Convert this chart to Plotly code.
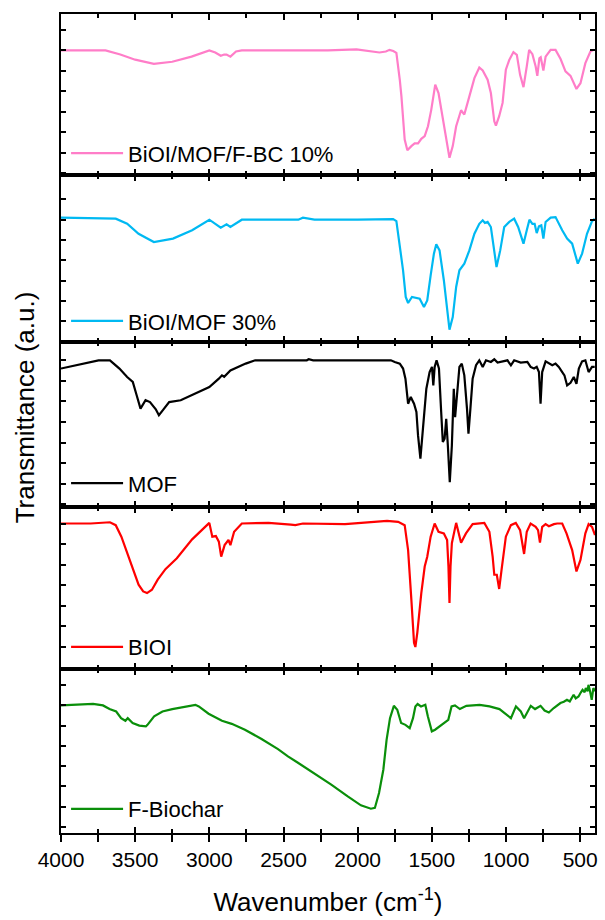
import plotly.graph_objects as go
from plotly.subplots import make_subplots

# ---- data (wavenumber cm^-1, transmittance a.u.) ----
names = ["BiOI/MOF/F-BC 10%", "BiOI/MOF 30%", "MOF", "BIOI", "F-Biochar"]
colors = ["#FF7DC8", "#00B9F2", "#000000", "#FF0000", "#0A8F0A"]

bc10 = [(4000,60),(3850,60),(3700,60),(3600,58),(3500,55.5),(3374,53.5),(3250,54.5),(3120,57),
        (3000,60),(2960,59),(2923,57.4),(2900,58),(2884,58),(2858,57),(2820,59.5),(2781,60),
        (2600,60),(2400,60),(2369,60.3),(2340,60),(2200,60),(2008,60.5),(1950,60),(1853,59),
        (1810,59.5),(1785,60.3),(1760,59.7),(1739,58.8),(1716,45.7),(1705,37.6),(1683,16.5),
        (1665,11.3),(1638,13.3),(1616,14.6),(1593,14.6),(1571,16.9),(1548,18.2),(1526,23),
        (1504,31),(1477,43.3),(1455,39.2),(1426,26.3),(1403,16.5),(1381,7.6),(1359,13.3),
        (1336,23),(1303,30.8),(1281,28.7),(1247,37.6),(1213,46.5),(1180,51.7),(1157,50.2),
        (1124,45.7),(1102,39.2),(1079,25.4),(1068,23.3),(1046,27.9),(1023,34.4),(1001,50.6),
        (978,55.4),(950,59.2),(927,57.9),(905,48.1),(882,42.1),(860,52.2),(844,60.3),(822,58.2),
        (800,52.2),(789,47.6),(775,56.2),(766,56.7),(748,50.2),(733,57),(699,60.3),(666,60.3),
        (632,55.8),(599,49.8),(565,47.6),(525,41.2),(498,44),(465,53.8),(431,59.5),(409,60.3)]

mof30 = [(4000,61),(3800,60.8),(3631,60.5),(3554,58),(3477,53.1),(3374,49),(3245,50.7),(3116,54.8),
         (3000,60),(2923,56.1),(2884,57.7),(2858,56.4),(2781,60),(2600,60),(2400,60),(2369,61),
         (2291,60),(2000,60),(1776,60.3),(1761,60.3),(1739,59.3),(1716,46.6),(1694,35.1),(1676,22),
         (1660,19),(1634,22),(1611,21.6),(1582,21.1),(1553,17),(1531,20.3),(1508,32.6),(1486,43.3),
         (1470,47.9),(1448,44.9),(1419,30.2),(1397,15.4),(1381,5.9),(1359,12.1),(1336,26.9),
         (1314,35.1),(1281,38.4),(1247,44.9),(1213,53.1),(1180,58),(1157,59.7),(1142,58.4),
         (1124,58.9),(1102,56.4),(1079,43.3),(1064,36.7),(1039,44.9),(1012,56.4),(978,58.9),
         (945,60.5),(918,56.4),(882,48.2),(860,54.8),(842,60),(822,58),(807,58),(793,53.4),
         (778,56.7),(762,57.2),(748,50.7),(733,58.9),(699,61),(666,61.3),(650,58.9),(621,54.8),
         (588,50.7),(554,48.2),(516,38.4),(487,43.3),(454,53.1),(420,59.3),(402,60.5)]

mof = [(4000,66),(3889,67.6),(3747,70),(3670,70),(3606,66),(3554,61.9),(3516,59.5),(3490,53),
       (3464,46.5),(3430,50.6),(3400,49.7),(3361,46.2),(3340,43.3),(3309,46.2),(3271,49.7),
       (3193,50.6),(3116,53),(3039,55.4),(3000,57),(2936,61.1),(2915,62.7),(2900,62),(2858,65.1),
       (2755,68.4),(2691,70),(2343,70),(2330,70.5),(2300,70),(1776,70),(1750,69.2),(1716,68.4),
       (1694,66),(1678,61.1),(1660,48.9),(1642,52.2),(1620,48.9),(1604,44.9),(1593,33.5),
       (1577,22.2),(1560,36.7),(1537,56.2),(1515,64.3),(1499,66.8),(1490,57.8),(1481,66.8),
       (1468,70),(1452,66),(1437,44.9),(1426,30.3),(1414,31.9),(1403,41.6),(1392,28.6),
       (1379,10.8),(1365,28.6),(1352,56.2),(1343,42.4),(1329,56.2),(1314,66.8),(1298,68.4),
       (1281,62.7),(1263,46.5),(1253,34.4),(1240,46.5),(1225,61.1),(1202,67.6),(1180,70),
       (1157,66.8),(1135,70),(1102,69.2),(1079,70.5),(1057,68.9),(1023,69.5),(990,70),(967,67.6),
       (945,70),(901,68.9),(856,69.2),(834,66.8),(811,66),(793,66.8),(778,64.3),(767,48.9),
       (756,64.3),(733,69.5),(711,68.4),(688,67.6),(666,68.4),(644,66.8),(621,64.3),(606,62.7),
       (588,57.8),(565,59.1),(543,61.9),(525,58.6),(509,66),(487,69.5),(465,70),(443,64.3),
       (420,66.8),(402,66.8)]

bioi = [(4000,70),(3800,70),(3670,70.6),(3631,69.2),(3593,63.6),(3554,55.5),(3516,47.5),(3477,40.3),
        (3446,37),(3420,36.2),(3387,37.8),(3348,42.7),(3296,47.8),(3219,53.1),(3116,62.3),
        (3039,67.6),(3000,70.3),(2980,63.6),(2956,63.9),(2936,61.2),(2920,53.9),(2897,59.5),
        (2871,62),(2858,59.5),(2833,66),(2781,70),(2601,70.3),(2450,69.5),(2420,69.2),(2369,70),
        (2200,69.7),(2085,69.7),(1802,71.3),(1750,71),(1727,70.8),(1683,69.2),(1660,57.1),
        (1638,33),(1620,12.1),(1611,10),(1598,16.9),(1571,36.2),(1548,49.1),(1531,53.9),
        (1508,63.6),(1481,70),(1455,66),(1419,65.2),(1397,62),(1388,49.1),(1381,31.4),(1374,49.1),
        (1365,60.4),(1336,70.3),(1303,60.7),(1270,65.2),(1225,69.7),(1146,70.3),(1112,66),
        (1090,53.9),(1079,45.1),(1062,45.1),(1046,38.2),(1030,47.5),(1001,63.6),(967,69.2),
        (934,70.3),(905,66.8),(889,60.4),(878,55.2),(860,66),(834,70),(800,68.4),(784,66.8),
        (771,60.7),(756,68.4),(733,69.7),(711,68.7),(677,69.7),(655,70),(621,70),(592,65.2),
        (554,57.1),(525,46.7),(498,52.3),(465,65.2),(443,69.7),(420,68.4),(400,64.4)]

biochar = [(4000,60),(3895,60.3),(3784,60.8),(3717,60),(3673,58.2),(3628,57),(3595,53.7),(3566,52.4),
           (3550,53.7),(3517,51.3),(3472,50),(3428,49.6),(3417,50.4),(3372,54.6),(3316,57),
           (3250,58.2),(3160,59.5),(3094,60.3),(3071,59.5),(3005,55.9),(2915,52.4),(2849,50.9),
           (2760,48),(2648,43.4),(2537,38.4),(2470,34.8),(2400,31.5),(2289,26.2),(2178,20.8),
           (2067,15),(1978,10.6),(1911,8.9),(1884,9.3),(1856,16.7),(1827,28.2),(1805,43),
           (1782,53.7),(1756,59.8),(1733,57.9),(1707,51.3),(1678,50.4),(1649,48.8),(1627,53.7),
           (1611,59.5),(1596,60.7),(1573,59.5),(1544,60.3),(1527,54.6),(1500,47.2),(1478,48),
           (1422,51.3),(1389,52.9),(1367,59.5),(1344,60),(1311,58.2),(1267,59.8),(1178,60.3),
           (1111,59.5),(1044,58.2),(1000,55.4),(967,53.7),(933,59.5),(900,57),(878,53.7),
           (833,59.8),(804,58.2),(767,59.8),(740,57.5),(711,56.5),(678,58.7),(633,61.2),
           (610,61.8),(589,62.8),(570,62),(544,65.3),(530,63.5),(511,64.4),(495,66.5),(484,67.7),
           (470,66.5),(462,68.6),(450,67),(444,70.2),(433,66.9),(422,62.8),(411,68.6),(400,67)]

x_ticks = [4000, 3500, 3000, 2500, 2000, 1500, 1000, 500]
series = [bc10, mof30, mof, bioi, biochar]
y_ranges = [[-0.8, 77.8], [-0.2, 82], [-1.3, 78.9], [-0.7, 78], [-3.1, 78]]

# ---- layout geometry ----
domains = [[0.8034, 1.0], [0.5995, 0.8034], [0.3980, 0.5995], [0.2002, 0.3980], [0.0, 0.2002]]
legend_y = [0.830, 0.625, 0.427, 0.227, 0.0293]
FONT = "Liberation Sans, Arial, sans-serif"
XR = [4000, 400]

fig = make_subplots(rows=5, cols=1, shared_xaxes=True, vertical_spacing=0)

for i, (data, name, col) in enumerate(zip(series, names, colors)):
    lg = "legend" if i == 0 else f"legend{i+1}"
    fig.add_trace(go.Scatter(x=[p[0] for p in data], y=[p[1] for p in data], mode="lines",
                             line=dict(color=col, width=2.2), name=name, legend=lg),
                  row=i + 1, col=1)
    fig.update_yaxes(row=i + 1, col=1, domain=domains[i], range=y_ranges[i],
                     tickvals=list(range(0, 80, 10)), showticklabels=False,
                     ticks="inside", ticklen=5, tickwidth=1.5, tickcolor="black",
                     showline=True, linewidth=1.5, linecolor="black", mirror="ticks",
                     showgrid=False, zeroline=False)
    fig.update_xaxes(row=i + 1, col=1, range=XR, tickvals=x_ticks, showticklabels=False,
                     ticks="inside", ticklen=6, tickwidth=1.5, tickcolor="black",
                     minor=dict(dtick=250, tick0=0, ticks="inside", ticklen=4, tickwidth=1.5,
                                tickcolor="black", showgrid=False),
                     showline=True, linewidth=1.5, linecolor="black", mirror="ticks",
                     showgrid=False, zeroline=False)
    fig.layout[lg] = dict(x=0.0095, y=legend_y[i], xanchor="left", yanchor="middle",
                          bgcolor="rgba(0,0,0,0)", font=dict(size=22, color="black", family=FONT),
                          itemwidth=52, tracegroupgap=0)

# outward ticks + labels on the bottom axis (overlay axis on the bottom panel)
fig.add_trace(go.Scatter(x=[], y=[], xaxis="x6", yaxis="y5", showlegend=False, hoverinfo="skip"))
fig.update_layout(xaxis6=dict(overlaying="x5", anchor="y5", side="bottom", range=XR,
                              tickvals=x_ticks, ticks="outside", ticklen=8, tickwidth=1.5,
                              tickcolor="black",
                              minor=dict(dtick=250, tick0=0, ticks="outside", ticklen=8,
                                         tickwidth=1.5, tickcolor="black", showgrid=False),
                              showline=False, showgrid=False, zeroline=False,
                              tickfont=dict(size=21, color="black", family=FONT),
                              title=dict(text="Wavenumber (cm<sup>-1</sup>)", standoff=22,
                                         font=dict(size=26, color="black", family=FONT))))

fig.add_annotation(text="Transmittance (a.u.)", xref="paper", yref="paper",
                   x=-0.067, y=0.52, xanchor="center", yanchor="middle", textangle=-90,
                   showarrow=False, font=dict(size=26, color="black", family=FONT))

fig.update_layout(width=605, height=920, margin=dict(l=61, r=7, t=14, b=87),
                  paper_bgcolor="white", plot_bgcolor="white", showlegend=True,
                  font=dict(family=FONT, color="black"))

fig.write_html("out.html")
